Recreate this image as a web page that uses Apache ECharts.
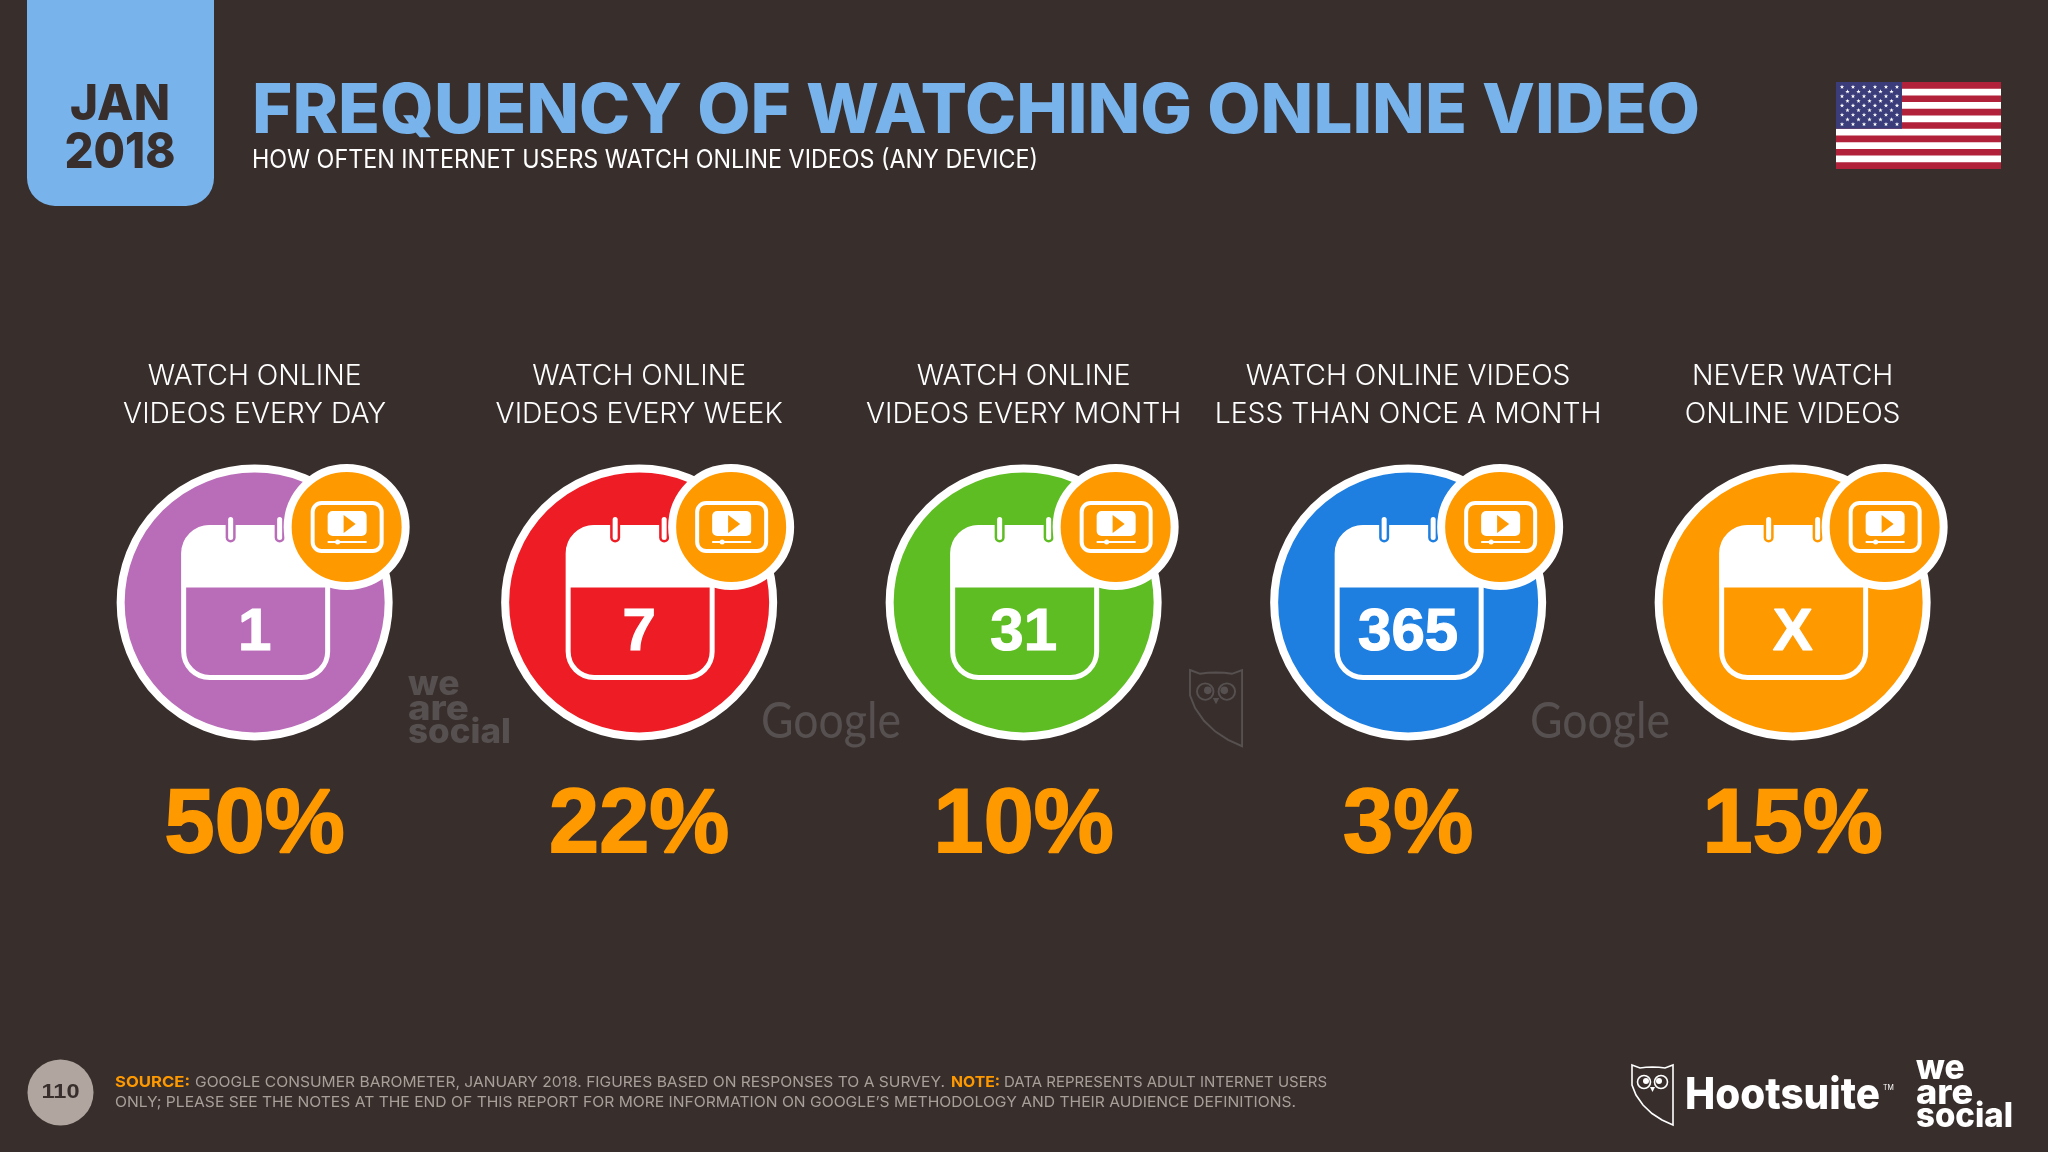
<!DOCTYPE html>
<html><head><meta charset="utf-8">
<style>html,body{margin:0;padding:0;background:#382f2d}#c{width:2048px;height:1152px}</style>
<script src="https://cdn.jsdelivr.net/npm/echarts@6/dist/echarts.min.js"></script>
</head><body><div id="c"></div>
<script>
const categories = [
  'WATCH ONLINE\nVIDEOS EVERY DAY',
  'WATCH ONLINE\nVIDEOS EVERY WEEK',
  'WATCH ONLINE\nVIDEOS EVERY MONTH',
  'WATCH ONLINE VIDEOS\nLESS THAN ONCE A MONTH',
  'NEVER WATCH\nONLINE VIDEOS'
];
const shares = [50, 22, 10, 3, 15];
const calendarLabels = ['1', '7', '31', '365', 'X'];
const palette = ['#b96db9', '#ee1c24', '#5fbd24', '#1f7fe0', '#ff9900'];

const BG = '#382f2d', BLUE = '#78b3ec', ORANGE = '#ff9900', WHITE = '#ffffff', GREY = '#a89f99', MARK = '#565050';
const SANS = 'Inter', NUM = '"Liberation Sans"';
const ctx = document.createElement('canvas').getContext('2d');

function t(text, x, y, size, weight, fill, opts) {
  opts = opts || {};
  const fam = opts.family || SANS;
  ctx.font = weight + ' ' + size + 'px ' + fam;
  const natural = ctx.measureText(text).width;
  const sx = opts.width ? opts.width / natural : 1;
  const align = opts.align || 'left';
  return {
    type: 'text', x: x, y: y, scaleX: sx, silent: true,
    style: { text: text, x: 0, y: 0, fill: fill, align: align, verticalAlign: 'middle',
      fontSize: size, fontWeight: weight, fontFamily: fam }
  };
}
const OWL_OUTLINE = [[0, 0], [8, 3], [14, 2.2], [20.5, 2], [27, 2.2], [33, 3], [41, 0], [41, 60], [30, 55], [20, 48.5], [11, 40], [4, 30], [0, 20]];
function owl(x, y, k, color, sw) {
  const s = { stroke: color, fill: null, lineWidth: sw };
  return { type: 'group', x: x, y: y, scaleX: k, scaleY: k, silent: true, children: [
    { type: 'polygon', shape: { points: OWL_OUTLINE }, style: s },
    { type: 'circle', shape: { cx: 12, cy: 17, r: 6.5 }, style: s },
    { type: 'circle', shape: { cx: 29, cy: 17, r: 6.5 }, style: s },
    { type: 'circle', shape: { cx: 14, cy: 16, r: 3 }, style: { fill: color } },
    { type: 'circle', shape: { cx: 27, cy: 16, r: 3 }, style: { fill: color } },
    { type: 'polygon', shape: { points: [[18, 22], [23, 22], [20.5, 27]] }, style: { fill: color } }
  ]};
}
function wordmark(x, y, size, color, w) {
  return [t('we', x, y, size, 800, color, { width: w * 0.5 }),
          t('are', x, y + 0.72 * size, size, 800, color, { width: w * 0.59 }),
          t('social', x, y + 1.4 * size, size, 800, color, { width: w })];
}
function flag(x, y, w, h) {
  const els = [{ type: 'rect', shape: { x: x, y: y, width: w, height: h }, style: { fill: '#ffffff' } }];
  const sh = h / 13;
  for (let i = 0; i < 13; i += 2)
    els.push({ type: 'rect', shape: { x: x, y: y + i * sh, width: w, height: sh }, style: { fill: '#b1213a' } });
  els.push({ type: 'rect', shape: { x: x, y: y, width: w * 0.4, height: sh * 7 }, style: { fill: '#3a3d7a' } });
  for (let r = 0; r < 9; r++) {
    const odd = r % 2;
    for (let c = 0; c < (odd ? 5 : 6); c++) {
      const cx = x + 6 + (odd ? 5.5 : 0) + c * 11, cy = y + 5 + r * 4.65, pts = [];
      for (let k = 0; k < 10; k++) {
        const a = -Math.PI / 2 + k * Math.PI / 5, rr = k % 2 ? 0.95 : 2.3;
        pts.push([cx + rr * Math.cos(a), cy + rr * Math.sin(a)]);
      }
      els.push({ type: 'polygon', shape: { points: pts }, style: { fill: '#ffffff' } });
    }
  }
  return els;
}

function renderItem(params, api) {
  const i = api.value(0), c = api.coord([i, 0]), fill = palette[i];
  const share = api.value(2);
  const rect = (x, y, w, h, r, style) => ({ type: 'rect', shape: { x: x, y: y, width: w, height: h, r: r }, style: style });
  return {
    type: 'group', x: c[0], y: c[1],
    children: [
      { type: 'circle', shape: { cx: 0, cy: 0, r: 134 }, style: { fill: fill, stroke: WHITE, lineWidth: 8 } },
      // calendar
      rect(-71, -75, 144, 150, 26, { fill: null, stroke: WHITE, lineWidth: 5 }),
      rect(-73, -77, 148, 62, [28, 28, 0, 0], { fill: WHITE }),
      rect(-29, -88, 10, 28, 5, { fill: fill }),
      rect(-26.5, -85.5, 5, 23, 2.5, { fill: WHITE }),
      rect(20, -88, 10, 28, 5, { fill: fill }),
      rect(22.5, -85.5, 5, 23, 2.5, { fill: WHITE }),
      { type: 'text', x: 0, y: 31, style: { text: calendarLabels[i], align: 'center', verticalAlign: 'middle',
        fill: WHITE, stroke: WHITE, lineWidth: 1.2, fontSize: 60, fontWeight: 700, fontFamily: NUM } },
      // badge
      { type: 'circle', shape: { cx: 92, cy: -75.5, r: 59 }, style: { fill: ORANGE, stroke: WHITE, lineWidth: 8 } },
      rect(58, -99.5, 69, 48, 9, { fill: null, stroke: WHITE, lineWidth: 4 }),
      rect(73, -91.5, 39, 25, 5, { fill: WHITE }),
      { type: 'polygon', shape: { points: [[89, -87.5], [101, -78.5], [89, -69.5]] }, style: { fill: ORANGE } },
      rect(73, -61.5, 39, 2, 0, { fill: WHITE }),
      { type: 'circle', shape: { cx: 83, cy: -60.5, r: 2.5 }, style: { fill: WHITE } },
      // value
      { type: 'text', x: 0, y: 225, style: { text: share + '%', align: 'center', verticalAlign: 'middle',
        fill: ORANGE, stroke: ORANGE, lineWidth: 1.8, fontSize: 90, fontWeight: 700, fontFamily: NUM } }
    ]
  };
}

const graphics = [
  { type: 'rect', silent: true, shape: { x: 27, y: 0, width: 187, height: 206, r: [0, 0, 28, 28] }, style: { fill: BLUE } },
  t('JAN', 120, 105, 50, 800, BG, { align: 'center', width: 100 }),
  t('2018', 120, 153, 50, 800, BG, { align: 'center', width: 111 }),
  t('FREQUENCY OF WATCHING ONLINE VIDEO', 252, 112, 69, 800, BLUE, { width: 1448 }),
  t('HOW OFTEN INTERNET USERS WATCH ONLINE VIDEOS (ANY DEVICE)', 252, 160, 25, 400, WHITE, { width: 786 }),
  ...flag(1836, 82, 165, 87),
  // watermarks
  ...wordmark(408, 685, 34, MARK, 103),
  t('Google', 761, 722, 50, 400, MARK, { width: 140, family: 'Lato' }),
  owl(1190, 670, 1.27, MARK, 1.5),
  t('Google', 1530, 722, 50, 400, MARK, { width: 140, family: 'Lato' }),
  // footer
  { type: 'circle', silent: true, shape: { cx: 60.5, cy: 1092.5, r: 33 }, style: { fill: '#b0a69f' } },
  t('110', 60.5, 1092, 21, 700, BG, { align: 'center', family: NUM, width: 38 }),
  t('SOURCE:', 115, 1082, 15, 700, ORANGE, { width: 75 }),
  t('GOOGLE CONSUMER BAROMETER, JANUARY 2018. FIGURES BASED ON RESPONSES TO A SURVEY.', 195, 1082, 15, 400, GREY, { width: 750 }),
  t('NOTE:', 951, 1082, 15, 700, ORANGE, { width: 49 }),
  t('DATA REPRESENTS ADULT INTERNET USERS', 1004, 1082, 15, 400, GREY, { width: 323 }),
  t('ONLY; PLEASE SEE THE NOTES AT THE END OF THIS REPORT FOR MORE INFORMATION ON GOOGLE\u2019S METHODOLOGY AND THEIR AUDIENCE DEFINITIONS.', 115, 1102, 15, 400, GREY, { width: 1181 }),
  owl(1632, 1065, 1, WHITE, 1.6),
  t('Hootsuite', 1685, 1096, 44, 800, WHITE, { width: 195 }),
  t('TM', 1883, 1088, 7, 400, WHITE),
  ...wordmark(1916, 1069, 34, WHITE, 97)
];

const chart = echarts.init(document.getElementById('c'));
chart.setOption({
  animation: false,
  backgroundColor: BG,
  grid: { left: 62.4, width: 1922.5, top: 440, height: 325 },
  xAxis: {
    type: 'category', position: 'top', data: categories,
    axisLine: { show: false }, axisTick: { show: false }, splitLine: { show: false },
    axisLabel: { interval: 0, margin: 7, color: WHITE, fontFamily: SANS, fontSize: 28.3, fontWeight: 300, lineHeight: 38, align: 'center', verticalAlign: 'bottom' }
  },
  yAxis: { type: 'value', min: -1, max: 1, show: false },
  series: [{
    type: 'custom', clip: false, silent: true,
    encode: { x: 0, y: 1 },
    data: shares.map((v, i) => [i, 0, v]),
    renderItem: renderItem
  }],
  graphic: { elements: graphics }
});
</script></body></html>
